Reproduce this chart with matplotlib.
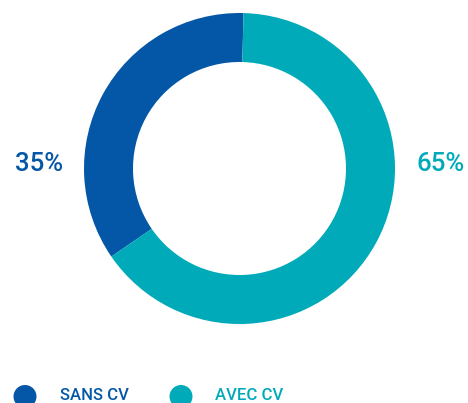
import matplotlib
matplotlib.use("Agg")
import matplotlib.pyplot as plt
from matplotlib.patches import Circle

labels = ["SANS CV", "AVEC CV"]
values = [35, 65]
pct_labels = ["35%", "65%"]
colors = ["#0457A6", "#00AAB9"]

W, H = 468, 403
fig = plt.figure(figsize=(W / 100, H / 100), dpi=100)
ax = fig.add_axes([0, 0, 1, 1])

cx, cy = 239.5, H - 168.5
R = 155.5
ax.pie(values, colors=colors, startangle=88.5, counterclock=True,
       radius=R, center=(cx, cy), frame=True,
       wedgeprops=dict(width=49, edgecolor="none", linewidth=0))
ax.set_xlim(0, W)
ax.set_ylim(0, H)
ax.set_aspect("equal")
ax.axis("off")

font = ["Roboto", "DejaVu Sans"]
ax.text(39, H - 164, pct_labels[0], color=colors[0], fontsize=18.5,
        ha="center", va="center", family=font, fontweight="medium")
ax.text(440.5, H - 164, pct_labels[1], color=colors[1], fontsize=18.5,
        ha="center", va="center", family=font, fontweight="medium")

leg_x = [25, 181]
txt_x = [60, 215]
for i in range(2):
    ax.add_patch(Circle((leg_x[i], H - 396.5), 11.5, color=colors[i], lw=0))
    ax.text(txt_x[i], H - 402.8, labels[i], color=colors[i], fontsize=12,
            ha="left", va="bottom", family=font, fontweight="medium")

fig.savefig("out.png", dpi=100)
